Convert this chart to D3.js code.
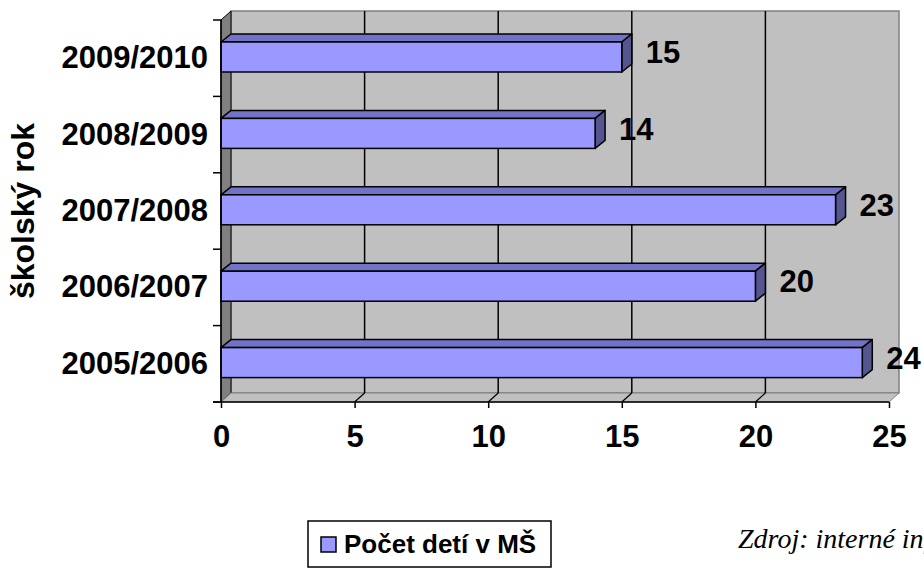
<!DOCTYPE html>
<html>
<head>
<meta charset="utf-8">
<script src="https://cdn.jsdelivr.net/npm/d3@7"></script>
<style>
  html, body { margin: 0; padding: 0; background: #fff; }
  svg { display: block; }
  text { font-family: "Liberation Sans", Arial, sans-serif; font-weight: bold; fill: #000; }
</style>
</head>
<body>
<svg id="chart" width="924" height="568"></svg>
<script>
// ---- data ----
const categories = ["2009/2010", "2008/2009", "2007/2008", "2006/2007", "2005/2006"];
const values = [15, 14, 23, 20, 24];
const xTicks = [0, 5, 10, 15, 20, 25];
const seriesName = "Počet detí v MŠ";
const yTitle = "školský rok";
const sourceText = "Zdroj: interné informácie";

// ---- layout ----
const svg = d3.select("#chart");
const pLeft = 221, pRight = 889, pTop = 20, pBottom = 402;
const wallDx = 10, wallDy = 9;
const barDx = 10, barDy = 8;
const x = d3.scaleLinear().domain([0, 25]).range([pLeft, pRight]);
const y = d3.scaleBand().domain(categories).range([pTop, pBottom]).paddingInner(0).paddingOuter(0);
const barOffset = 22, barH = 30;

// back wall
svg.append("rect")
  .attr("x", pLeft + wallDx).attr("y", pTop - wallDy)
  .attr("width", pRight - pLeft).attr("height", pBottom - pTop)
  .attr("fill", "#c0c0c0").attr("stroke", "#808080").attr("stroke-width", 1.5);

// left side wall
svg.append("path")
  .attr("d", `M${pLeft},${pTop} L${pLeft + wallDx},${pTop - wallDy} L${pLeft + wallDx},${pBottom - wallDy} L${pLeft},${pBottom} Z`)
  .attr("fill", "#808080").attr("stroke", "#000").attr("stroke-width", 1);

// floor
svg.append("path")
  .attr("d", `M${pLeft},${pBottom} L${pRight},${pBottom} L${pRight + wallDx},${pBottom - wallDy} L${pLeft + wallDx},${pBottom - wallDy} Z`)
  .attr("fill", "#c0c0c0").attr("stroke", "#808080").attr("stroke-width", 1);

// gridlines (back wall + floor)
const grid = xTicks.filter(v => v > 0 && v < 25);
svg.selectAll("line.grid").data(grid).enter().append("line")
  .attr("class", "grid")
  .attr("x1", d => x(d) + wallDx).attr("x2", d => x(d) + wallDx)
  .attr("y1", pTop - wallDy).attr("y2", pBottom - wallDy)
  .attr("stroke", "#000").attr("stroke-width", 1.5);
svg.selectAll("line.gridf").data(grid).enter().append("line")
  .attr("class", "gridf")
  .attr("x1", d => x(d)).attr("x2", d => x(d) + wallDx)
  .attr("y1", pBottom).attr("y2", pBottom - wallDy)
  .attr("stroke", "#000").attr("stroke-width", 1.2);

// bars
const bars = svg.selectAll("g.bar").data(categories.map((c, i) => ({c, v: values[i]})))
  .enter().append("g").attr("class", "bar");
bars.append("path") // top face
  .attr("d", d => {
    const y0 = y(d.c) + barOffset, x0 = x(0), x1 = x(d.v);
    return `M${x0},${y0} L${x0 + barDx},${y0 - barDy} L${x1 + barDx},${y0 - barDy} L${x1},${y0} Z`;
  })
  .attr("fill", "#7272c6").attr("stroke", "#000").attr("stroke-width", 1.5).attr("stroke-linejoin", "round");
bars.append("path") // side face
  .attr("d", d => {
    const y0 = y(d.c) + barOffset, x1 = x(d.v);
    return `M${x1},${y0} L${x1 + barDx},${y0 - barDy} L${x1 + barDx},${y0 + barH - barDy} L${x1},${y0 + barH} Z`;
  })
  .attr("fill", "#55558f").attr("stroke", "#000").attr("stroke-width", 1.5).attr("stroke-linejoin", "round");
bars.append("rect") // front face
  .attr("x", x(0)).attr("y", d => y(d.c) + barOffset)
  .attr("width", d => x(d.v) - x(0)).attr("height", barH)
  .attr("fill", "#9999ff").attr("stroke", "#000").attr("stroke-width", 1.5);

// value labels
bars.append("text")
  .attr("x", d => x(d.v) + barDx + 14)
  .attr("y", d => y(d.c) + barOffset + barH / 2 - 5)
  .attr("dy", "0.36em")
  .attr("font-size", 31)
  .text(d => d.v);

// x axis
const xAxis = svg.append("g").attr("transform", `translate(0,${pBottom})`)
  .call(d3.axisBottom(x).tickValues(xTicks).tickSize(6).tickPadding(17).tickSizeOuter(0));
xAxis.select(".domain").attr("stroke", "#000").attr("stroke-width", 1.5)
  .attr("d", `M${pLeft - 8},0H${pRight}`);
xAxis.selectAll(".tick line").attr("stroke", "#000").attr("stroke-width", 1.5);
xAxis.selectAll(".tick text").attr("font-size", 31).attr("font-family", "Liberation Sans, Arial, sans-serif").attr("font-weight", "bold");

// y axis (front edge, ticks at band boundaries)
svg.append("line").attr("x1", pLeft).attr("x2", pLeft).attr("y1", pTop).attr("y2", pBottom)
  .attr("stroke", "#000").attr("stroke-width", 1.5);
const bounds = categories.map(c => y(c)).concat([pBottom]);
svg.selectAll("line.ytick").data(bounds).enter().append("line")
  .attr("x1", pLeft - 8).attr("x2", pLeft).attr("y1", d => d).attr("y2", d => d)
  .attr("stroke", "#000").attr("stroke-width", 1.5);
svg.selectAll("text.ylab").data(categories).enter().append("text")
  .attr("class", "ylab")
  .attr("x", 208).attr("y", d => y(d) + barOffset + barH / 2)
  .attr("dy", "0.36em").attr("text-anchor", "end").attr("font-size", 31)
  .text(d => d);

// y title
svg.append("text")
  .attr("transform", "translate(34,211) rotate(-90)")
  .attr("text-anchor", "middle").attr("font-size", 32)
  .text(yTitle);

// legend
svg.append("rect").attr("x", 308).attr("y", 521).attr("width", 243).attr("height", 46)
  .attr("fill", "#fff").attr("stroke", "#000").attr("stroke-width", 1.5);
svg.append("rect").attr("x", 321).attr("y", 537).attr("width", 15).attr("height", 15)
  .attr("fill", "#9999ff").attr("stroke", "#000").attr("stroke-width", 1.5);
svg.append("text").attr("x", 344).attr("y", 553).attr("font-size", 26).text(seriesName);

// source
svg.append("text").attr("x", 738).attr("y", 548)
  .attr("font-size", 28)
  .style("font-family", "'Liberation Serif', 'Times New Roman', serif")
  .style("font-weight", "normal").style("font-style", "italic")
  .text(sourceText);
</script>
</body>
</html>
